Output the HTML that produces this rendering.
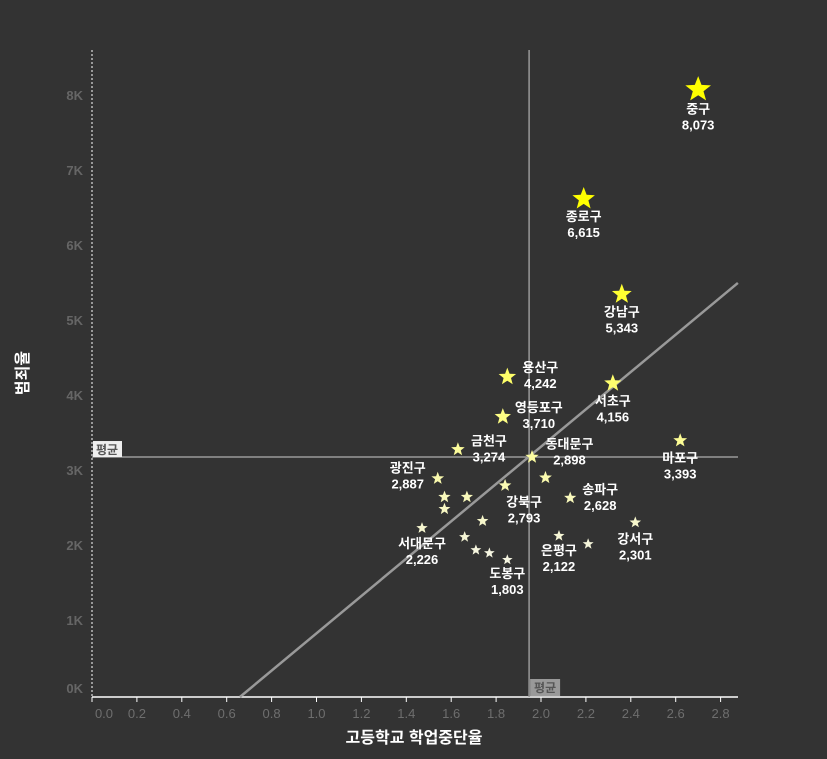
<!DOCTYPE html>
<html><head><meta charset="utf-8"><style>
html,body{margin:0;padding:0;background:#333;}
svg{display:block;font-family:"Liberation Sans","Noto Sans CJK KR",sans-serif;}
</style></head><body>
<svg id="chart" width="827" height="759">
<rect width="827" height="759" fill="#333"/>
</svg>
<script>
const names=["중구","종로구","강남구","용산구","서초구","영등포구","금천구","동대문구","마포구","광진구","강북구","송파구","강서구","은평구","도봉구","서대문구","","","","","","","","",""];
const dropout=[2.70,2.19,2.36,1.85,2.32,1.83,1.63,2.02,2.62,1.54,1.84,2.13,2.42,2.08,1.85,1.47,1.96,1.57,1.67,1.57,1.74,1.66,1.71,1.77,2.21];
const crime=[8073,6615,5343,4242,4156,3710,3274,2898,3393,2887,2793,2628,2301,2122,1803,2226,3173,2640,2640,2480,2320,2107,1933,1893,2013];
const xTicks=[0,0.2,0.4,0.6,0.8,1.0,1.2,1.4,1.6,1.8,2.0,2.2,2.4,2.6,2.8];
const yTicks=[0,1000,2000,3000,4000,5000,6000,7000,8000];
const avgX=1.947, avgY=3173;
const regA=-1632, regB=2477; // y = regA + regB*x
const labelPos=[[0,20],[0,18],[0,18],[33,-9],[0,18],[36,-9],[31,-8],[24,-33],[0,18],[-30,-10],[19,17],[30,-8],[0,17],[0,15],[0,14],[0,16]];

const svg=document.getElementById('chart');
const NS='http://www.w3.org/2000/svg';
const X=v=>92+v*224.5, Y=v=>695-v*0.075;
function el(t,a,p){const e=document.createElementNS(NS,t);for(const k in a)e.setAttribute(k,a[k]);(p||svg).appendChild(e);return e;}

let yAxis=el('line',{x1:92,y1:50,x2:92,y2:697,stroke:'#fff','stroke-dasharray':'2,2','stroke-width':1});


let xAxis=el('line',{x1:92,y1:697,x2:738,y2:697,stroke:'#fff','stroke-width':1.5});


xTicks.forEach(v=>{
  const tk=el('line',{x1:X(v),y1:697,x2:X(v),y2:702,stroke:'#fff'});
  
  
  const t=el('text',{x:X(v)+(v===0?12:0),y:718,'text-anchor':'middle','font-size':13,fill:'#6e6e6e'});
  t.textContent=v.toFixed(1);
  
  
});
yTicks.forEach(v=>{
  const t=el('text',{x:83,y:Y(v)+5-(v===0?7:0),'text-anchor':'end','font-size':13,'font-weight':'bold',fill:'#666'});
  t.textContent=(v/1000)+'K';
  
  
});
let av=el('line',{x1:X(avgX),y1:50,x2:X(avgX),y2:697,stroke:'#999','stroke-width':1.5});


let ah=el('line',{x1:92,y1:Y(avgY),x2:738,y2:Y(avgY),stroke:'#ccc','stroke-width':1});


let b1=el('rect',{x:93,y:Y(avgY)-16,width:29,height:16,fill:'#eee'});


let t1=el('text',{x:107,y:Y(avgY)-3,'text-anchor':'middle','font-size':12,'font-weight':'bold',fill:'#555'});t1.textContent='평균';


let b2=el('rect',{x:X(avgX)+1,y:679,width:30,height:17,fill:'#999'});


let t2=el('text',{x:X(avgX)+16,y:692,'text-anchor':'middle','font-size':12,'font-weight':'bold',fill:'#555'});t2.textContent='평균';


const x0=-regA/regB, x1=2.877;
let rl=el('line',{x1:X(x0),y1:Y(0)+2,x2:X(x1),y2:Y(regA+regB*x1),stroke:'#999','stroke-width':2.5});



function starPath(cx,cy,r){let p='';for(let i=0;i<10;i++){const rr=i%2?r*0.42:r;const a=-Math.PI/2+i*Math.PI/5;p+=(i?'L':'M')+(cx+rr*Math.cos(a)).toFixed(1)+','+(cy+rr*Math.sin(a)).toFixed(1);}return p+'Z';}
crime.forEach((c,i)=>{
  const t=Math.min(1,Math.max(0,(c-1800)/6300));
  const r=5.5+t*7+(c>3500?1:0);
  const base=235-Math.round((1-Math.min(1,t*3))*10);
  const b=Math.round(230*(1-Math.min(1,t*1.4)));
  const s=el('path',{d:starPath(X(dropout[i]),Y(c),r),fill:`rgb(${base+20>255?255:base+20},${base+20>255?255:base+20},${Math.min(b,base)})`});
  
  
  if(names[i]){
    const lp=labelPos[i];
    const tx=el('text',{x:X(dropout[i])+lp[0],y:Y(c)+lp[1]+4,'text-anchor':'middle','font-size':13,'font-weight':'bold',fill:'#fff'});
    
    
    const a=el('tspan',{x:X(dropout[i])+lp[0]},tx);a.textContent=names[i];
    const bb=el('tspan',{x:X(dropout[i])+lp[0],dy:16},tx);bb.textContent=c.toLocaleString('en-US');
  }
});
let xt=el('text',{x:414,y:743,'text-anchor':'middle','font-size':16,'font-weight':'bold',fill:'#fff'});xt.textContent='고등학교 학업중단율';


let yt=el('text',{x:0,y:0,'text-anchor':'middle','font-size':16,'font-weight':'bold',fill:'#fff',transform:'translate(28,373) rotate(-90)'});yt.textContent='범죄율';


</script>
</body></html>
